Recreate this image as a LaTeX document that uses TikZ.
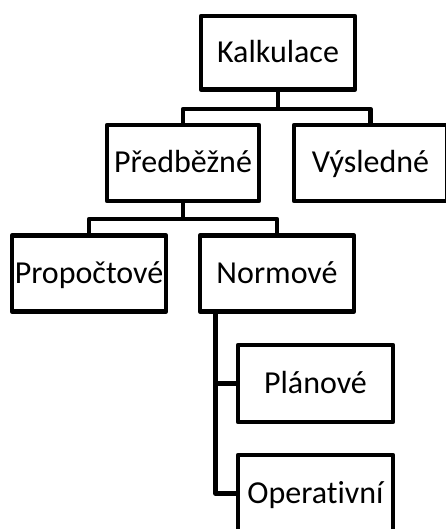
\documentclass[tikz,border=0pt]{standalone}
\usepackage{fontspec}
\setmainfont{Carlito}[Ligatures={NoCommon}]
\begin{document}
\begin{tikzpicture}[x=1pt,y=-1pt,
  box/.style={draw=black,line width=4.4pt,line join=round,fill=white,
    minimum width=154pt,minimum height=76pt,inner sep=0pt,
    text height=20pt,text depth=0pt,
    font=\fontsize{32}{38}\selectfont},
  link/.style={draw=black,line width=4.4pt,line join=round}]
\useasboundingbox (0,0) rectangle (446,529);
\clip (0,0) rectangle (446,529);
\node[box,minimum height=73.5pt] (k) at (278,52.75) {Kalkulace};
\node[box,minimum width=152pt] (p) at (183,163) {Předběžné};
\node[box,minimum width=153pt] (v) at (370.5,163) {Výsledné};
\node[box] (r) at (89,273.5) {Propočtové};
\node[box] (n) at (277,273.5) {Normové};
\node[box,minimum width=155pt,minimum height=77pt] (pl) at (315.5,383.5) {Plánové};
\node[box,minimum width=155pt,minimum height=77pt] (o) at (315.5,493.5) {Operativní};
\coordinate (b1) at (277,109);
\coordinate (b2) at (183,219);
\coordinate (nv) at (215.5,0);
\draw[link] (k.south) -- (k.south |- b1);
\draw[link] (p.north) |- (v.north |- b1) -- (v.north);
\draw[link] (p.south) -- (p.south |- b2);
\draw[link] (r.north) |- (n.north |- b2) -- (n.north);
\draw[link] (nv |- n.south) |- (o.west);
\draw[link] (nv |- pl.west) -- (pl.west);
\end{tikzpicture}
\end{document}
